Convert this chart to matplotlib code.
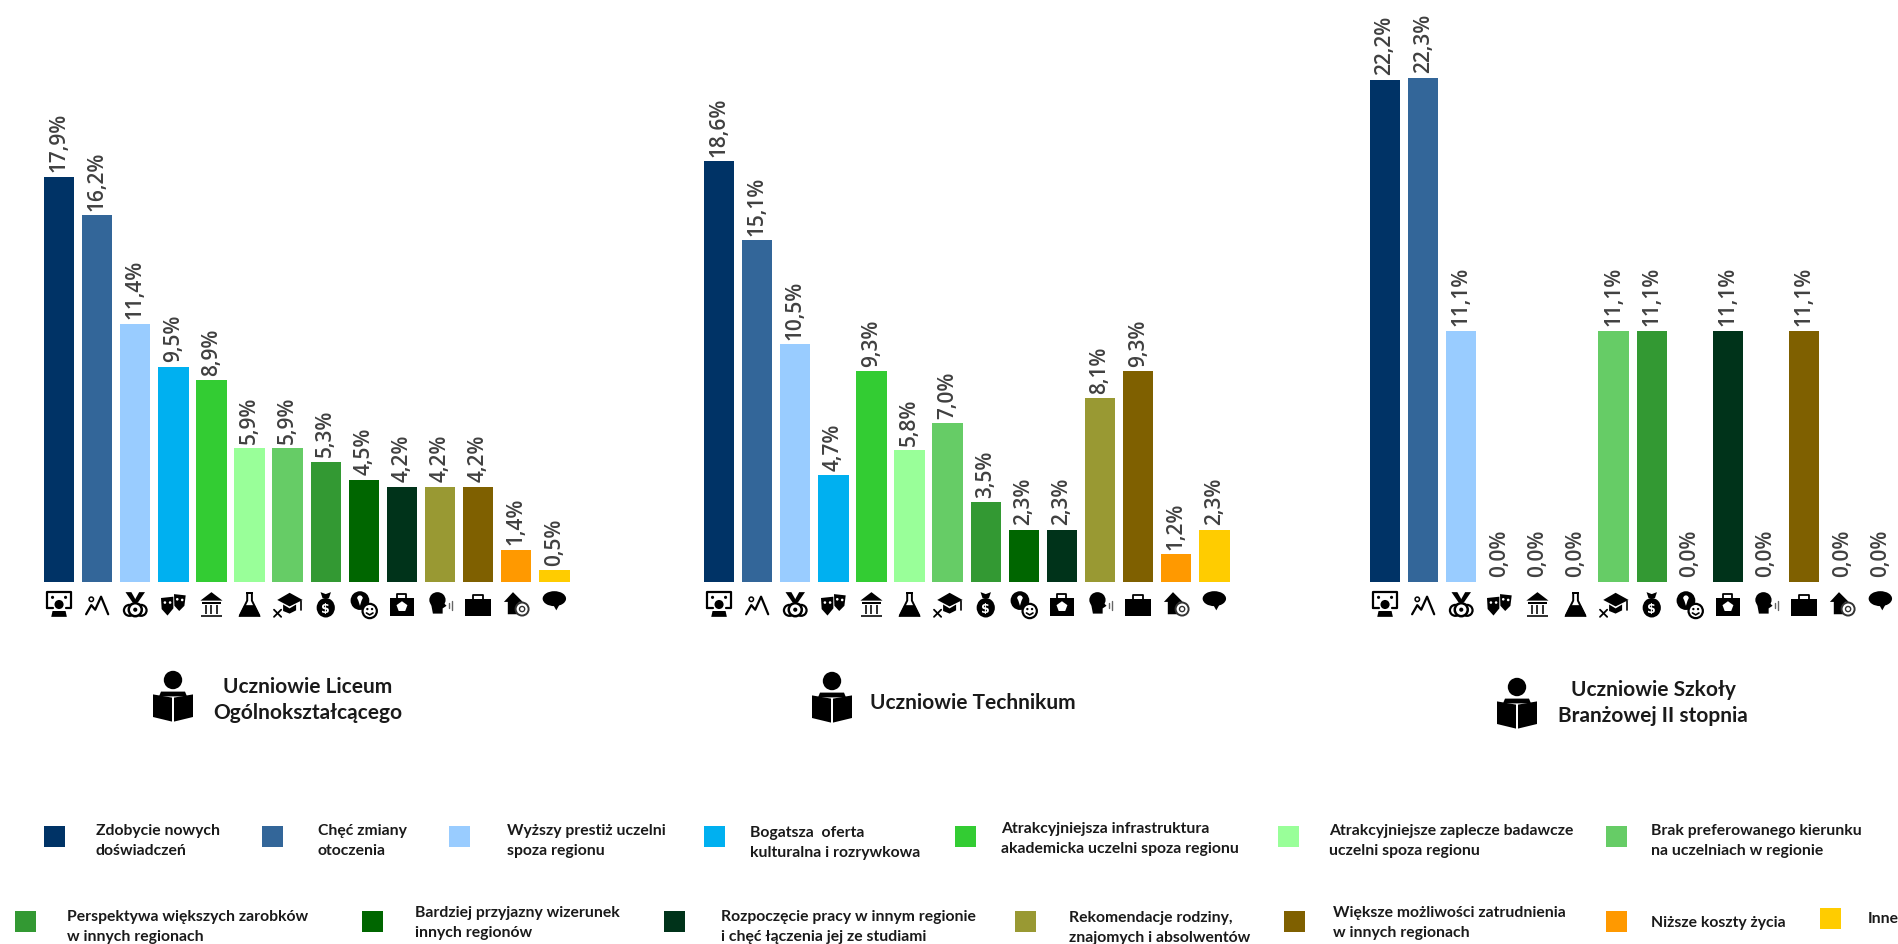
import matplotlib
matplotlib.use("Agg")
import matplotlib.pyplot as plt
from matplotlib.patches import Circle, Rectangle, Polygon, Ellipse

plt.rcParams['font.family'] = ['Lato', 'DejaVu Sans']

# percent values per school type
liceum = [17.9, 16.2, 11.4, 9.5, 8.9, 5.9, 5.9, 5.3, 4.5, 4.2, 4.2, 4.2, 1.4, 0.5]
technikum = [18.6, 15.1, 10.5, 4.7, 9.3, 5.8, 7.0, 3.5, 2.3, 2.3, 8.1, 9.3, 1.2, 2.3]
branzowa = [22.2, 22.3, 11.1, 0.0, 0.0, 0.0, 11.1, 11.1, 0.0, 11.1, 0.0, 11.1, 0.0, 0.0]

colors = ['#003366', '#336699', '#99CCFF', '#00B0F0', '#33CC33', '#99FF99', '#66CC66',
          '#339933', '#006600', '#00331A', '#999933', '#7F6000', '#FF9900', '#FFCC00']

legend_labels = [
    'Zdobycie nowych\ndoświadczeń', 'Chęć zmiany\notoczenia', 'Wyższy prestiż uczelni\nspoza regionu',
    'Bogatsza  oferta\nkulturalna i rozrywkowa', 'Atrakcyjniejsza infrastruktura\nakademicka uczelni spoza regionu',
    'Atrakcyjniejsze zaplecze badawcze\nuczelni spoza regionu', 'Brak preferowanego kierunku\nna uczelniach w regionie',
    'Perspektywa większych zarobków\nw innych regionach', 'Bardziej przyjazny wizerunek\ninnych regionów',
    'Rozpoczęcie pracy w innym regionie\ni chęć łączenia jej ze studiami', 'Rekomendacje rodziny,\nznajomych i absolwentów',
    'Większe możliwości zatrudnienia\nw innych regionach', 'Niższe koszty życia', 'Inne']

panel_titles = ['Uczniowie Liceum\nOgólnokształcącego', 'Uczniowie Technikum', 'Uczniowie Szkoły\nBranżowej II stopnia']

W, H = 1899, 945
PITCH = 38.1
BASE = 582.5
PX_PER_PCT = 22.6
panel_left = [40, 700, 1366]
title_pos = [(308, 700), (973, 703), (1653, 703)]
reader_pos = [(173, 695), (832, 696), (1517, 702)]

# legend layout in pixels: square x, square y, text x, text y
legend_pos = [(44, 838, 96, 841), (262, 838, 318, 841), (449, 838, 507, 841), (704, 838, 750, 843),
              (955, 838, 1001, 839), (1278, 838, 1329, 841), (1606, 838, 1651, 841),
              (15, 923, 67, 927), (362, 923, 415, 923), (664, 923, 721, 927),
              (1015, 923, 1069, 928), (1284, 923, 1333, 923), (1606, 923, 1651, 923), (1820, 920, 1868, 919)]

fig = plt.figure(figsize=(W / 100, H / 100), dpi=100)

# bars, one axes per school type
for left, values in zip(panel_left, [liceum, technikum, branzowa]):
    ax = fig.add_axes([left / W, 1 - BASE / H, 14 * PITCH / W, BASE / H])
    x = list(range(14))
    ax.bar(x, values, width=0.8, color=colors)
    ax.set_xlim(-0.5, 13.5)
    ax.set_ylim(0, BASE / PX_PER_PCT)
    ax.axis('off')
    for i, v in zip(x, values):
        ax.annotate(f"{v:.1f}%".replace('.', ','), (i, v), xytext=(0, 4), textcoords='offset points',
                    rotation=90, ha='center', va='bottom', fontsize=15, color='#404040',
                    family='Open Sans', fontweight='semibold')

# overlay in pixel coordinates for icons and legend
ov = fig.add_axes([0, 0, 1, 1])
ov.set_xlim(0, W)
ov.set_ylim(H, 0)
ov.axis('off')


class Pen:
    def __init__(self, cx, cy, s):
        self.cx, self.cy, self.s = cx, cy, s

    def pt(self, x, y):
        return self.cx + x * self.s, self.cy + y * self.s

    def poly(self, pts, c='black'):
        ov.add_patch(Polygon([self.pt(*p) for p in pts], closed=True, fc=c, ec='none'))

    def circ(self, x, y, r, c='black', ec='none', lw=0):
        ov.add_patch(Circle(self.pt(x, y), r * self.s, fc=c, ec=ec, lw=lw))

    def oval(self, x, y, w, h, c='black'):
        ov.add_patch(Ellipse(self.pt(x, y), w * self.s, h * self.s, fc=c, ec='none'))

    def rect(self, x, y, w, h, c='black'):
        ov.add_patch(Rectangle(self.pt(x, y), w * self.s, h * self.s, fc=c, ec='none'))

    def line(self, pts, lw=1.5, c='black'):
        xy = [self.pt(*p) for p in pts]
        ov.plot([p[0] for p in xy], [p[1] for p in xy], color=c, lw=lw, solid_capstyle='round')


def ic_screen(p):
    p.line([(-0.9, 0.25), (-0.9, -0.95), (0.9, -0.95), (0.9, 0.25), (0.5, 0.25)], 1.6)
    p.line([(-0.9, 0.25), (-0.5, 0.25)], 1.6)
    p.circ(0, 0.0, 0.35)
    p.poly([(-0.6, 0.95), (-0.5, 0.5), (0.5, 0.5), (0.6, 0.95)])
    p.circ(-0.5, -0.55, 0.12)
    p.circ(0.5, -0.55, 0.12)


def ic_path(p):
    p.line([(-0.85, 0.75), (-0.45, 0.05), (-0.15, 0.4), (0.3, -0.6), (0.85, 0.75)], 1.6)
    p.circ(-0.45, -0.4, 0.17, 'white', 'black', 1.1)


def ic_medal(p):
    p.poly([(-0.75, -0.95), (-0.3, -0.95), (0.15, -0.15), (-0.2, -0.15)])
    p.poly([(0.75, -0.95), (0.3, -0.95), (-0.15, -0.15), (0.2, -0.15)])
    for dx in (-0.45, 0.45):
        p.circ(dx, 0.45, 0.42, 'white', 'black', 1.6)
    p.circ(0, 0.4, 0.5, 'white', 'black', 1.8)
    p.circ(0, 0.4, 0.16)


def ic_masks(p):
    p.poly([(-0.95, -0.5), (0, -0.6), (0, 0.3), (-0.45, 0.85), (-0.9, 0.35)])
    p.poly([(0.05, -0.8), (0.95, -0.7), (0.85, 0.1), (0.45, 0.5), (0.08, 0.1)])
    p.circ(-0.65, -0.15, 0.1, 'white')
    p.circ(-0.25, -0.15, 0.1, 'white')
    p.circ(0.3, -0.4, 0.1, 'white')
    p.circ(0.68, -0.35, 0.1, 'white')


def ic_museum(p):
    p.poly([(0, -0.95), (0.85, -0.3), (-0.85, -0.3)])
    p.rect(-0.7, -0.2, 1.4, 0.14)
    for dx in (-0.5, -0.08, 0.34):
        p.rect(dx, 0.05, 0.16, 0.65, '#333333')
    p.rect(-0.8, 0.8, 1.6, 0.15, '#333333')


def ic_flask(p):
    p.rect(-0.3, -0.95, 0.6, 0.12)
    p.line([(-0.18, -0.85), (-0.18, -0.3), (-0.75, 0.85)], 1.4)
    p.line([(0.18, -0.85), (0.18, -0.3), (0.75, 0.85)], 1.4)
    p.poly([(-0.4, 0.05), (0.4, 0.05), (0.85, 0.95), (-0.85, 0.95)])


def ic_cap(p):
    p.poly([(0.15, -0.9), (1.15, -0.35), (0.15, 0.15), (-0.8, -0.35)])
    p.poly([(-0.35, 0.0), (0.15, 0.3), (0.65, 0.0), (0.65, 0.45), (0.15, 0.7), (-0.35, 0.5)])
    p.line([(1.05, -0.3), (1.05, 0.45)], 1.2)
    p.line([(-1.05, 0.4), (-0.5, 0.95)], 1.3)
    p.line([(-1.05, 0.95), (-0.5, 0.4)], 1.3)


def ic_bag(p):
    p.poly([(-0.4, -0.95), (0, -0.8), (0.4, -0.95), (0.25, -0.5), (-0.25, -0.5)])
    p.oval(0, 0.25, 1.4, 1.5)
    ov.text(*p.pt(0, 0.28), '$', color='white', fontsize=9, fontweight='bold', ha='center', va='center',
            family='DejaVu Sans')


def ic_pin(p):
    p.circ(-0.3, -0.3, 0.72)
    p.poly([(-0.5, -0.55), (-0.1, -0.55), (-0.3, 0.1)], 'white')
    p.circ(-0.3, -0.5, 0.2, 'white')
    p.circ(0.45, 0.5, 0.55, 'white', 'black', 1.6)
    p.circ(0.27, 0.35, 0.09)
    p.circ(0.63, 0.35, 0.09)
    p.line([(0.2, 0.65), (0.45, 0.8), (0.7, 0.65)], 1.2)


def ic_briefstar(p):
    p.rect(-0.95, -0.5, 1.9, 1.4)
    p.line([(-0.35, -0.5), (-0.35, -0.78), (0.35, -0.78), (0.35, -0.5)], 1.3)
    p.poly([(0, -0.25), (0.42, 0.05), (0.25, 0.5), (-0.25, 0.5), (-0.42, 0.05)], 'white')


def ic_speaker(p):
    p.oval(-0.2, -0.35, 1.25, 1.2)
    p.poly([(-0.7, -0.1), (0.3, -0.1), (0.5, 0.1), (0.2, 0.3), (0.2, 0.7), (-0.55, 0.7)])
    p.line([(0.7, -0.1), (0.7, 0.25)], 1.0, '#666666')
    p.line([(0.95, -0.3), (0.95, 0.4)], 1.0, '#666666')


def ic_brief(p):
    p.rect(-1.0, -0.45, 2.0, 1.3)
    p.line([(-0.4, -0.45), (-0.4, -0.7), (0.4, -0.7), (0.4, -0.45)], 1.3)


def ic_house(p):
    p.poly([(-0.25, -0.95), (0.5, -0.2), (0.2, -0.2), (0.2, 0.75), (-0.65, 0.75), (-0.65, -0.2), (-0.95, -0.2)])
    p.circ(0.45, 0.35, 0.5, 'white', '#333333', 1.4)
    p.circ(0.45, 0.35, 0.2, 'white', '#333333', 1.0)


def ic_speech(p):
    p.oval(0, -0.45, 1.8, 1.15)
    p.poly([(-0.1, 0.0), (0.4, 0.0), (0.15, 0.45)])


icons = [ic_screen, ic_path, ic_medal, ic_masks, ic_museum, ic_flask, ic_cap, ic_bag,
         ic_pin, ic_briefstar, ic_speaker, ic_brief, ic_house, ic_speech]

for left in panel_left:
    for i, draw in enumerate(icons):
        draw(Pen(left + PITCH * (i + 0.5), 605.5, 13))

# reader icon next to the panel titles
for cx, cy in reader_pos:
    p = Pen(cx, cy, 20)
    p.oval(0, -0.7, 0.92, 0.92)
    p.poly([(-0.6, -0.12), (0.6, -0.12), (0.7, 0.12), (-0.7, 0.12)])
    p.poly([(-1, 0.02), (-0.05, 0.18), (-0.05, 1.38), (-1, 1.15)])
    p.poly([(1, 0.02), (0.05, 0.18), (0.05, 1.38), (1, 1.15)])

for (tx, ty), t in zip(title_pos, panel_titles):
    ov.text(tx, ty, t, ha='center', va='center', fontsize=15, fontweight='bold', color='#1a1a1a', linespacing=1.43)

for (sx, sy, tx, ty), c, t in zip(legend_pos, colors, legend_labels):
    ov.add_patch(Rectangle((sx, sy - 11), 21, 21, fc=c, ec='none'))
    ov.text(tx, ty, t, ha='left', va='center', fontsize=11.3, fontweight='bold', color='#1a1a1a', linespacing=1.62)

fig.savefig('out.png', dpi=100)
